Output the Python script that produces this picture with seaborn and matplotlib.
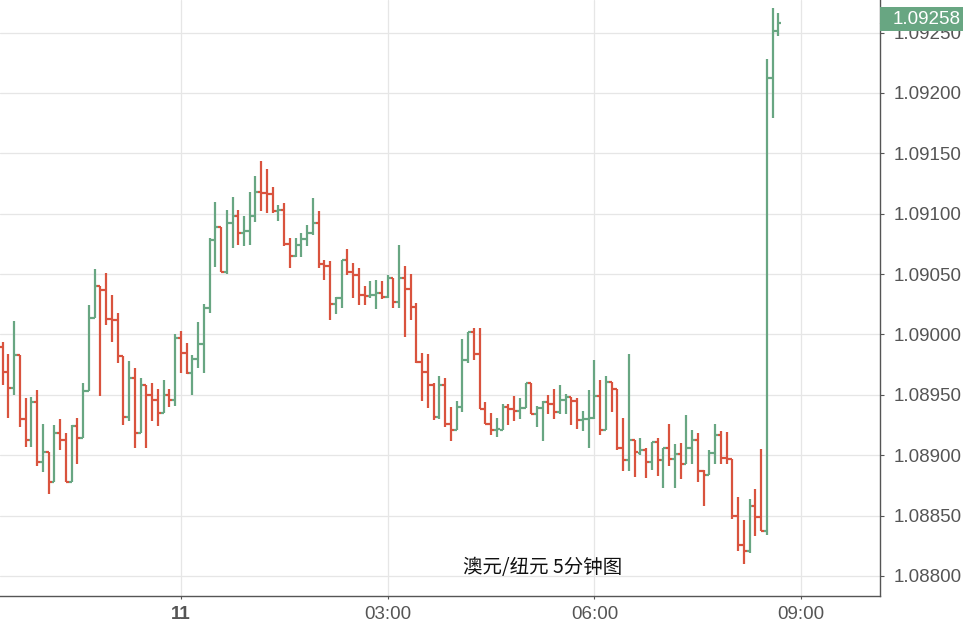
import numpy as np
import pandas as pd
import matplotlib
matplotlib.use("Agg")
import matplotlib.pyplot as plt
import matplotlib.dates as mdates
from matplotlib.patches import Rectangle
import seaborn as sns

# ===== 数据 (AUD/NZD 5分钟, 价格) =====
start_time = "2023-07-10 21:25"

open_ = [1.08990, 1.08969, 1.08956, 1.08983, 1.08930, 1.08913, 1.08944, 1.08894,
         1.08903, 1.08878, 1.08918, 1.08913, 1.08878, 1.08924, 1.08914, 1.08953,
         1.09014, 1.09040, 1.09037, 1.09013, 1.09012, 1.08982, 1.08932, 1.08964,
         1.08918, 1.08958, 1.08950, 1.08946, 1.08935, 1.08950, 1.08946, 1.08997,
         1.08985, 1.08968, 1.08980, 1.08992, 1.09022, 1.09078, 1.09089, 1.09052,
         1.09092, 1.09098, 1.09084, 1.09086, 1.09098, 1.09118, 1.09117, 1.09116,
         1.09102, 1.09103, 1.09075, 1.09065, 1.09074, 1.09079, 1.09084, 1.09092,
         1.09058, 1.09057, 1.09025, 1.09030, 1.09062, 1.09052, 1.09049, 1.09033,
         1.09032, 1.09033, 1.09034, 1.09031, 1.09047, 1.09027, 1.09047, 1.09038,
         1.09023, 1.08977, 1.08969, 1.08958, 1.08932, 1.08958, 1.08926, 1.08921,
         1.08940, 1.08979, 1.09002, 1.08984, 1.08938, 1.08926, 1.08921, 1.08921,
         1.08940, 1.08938, 1.08937, 1.08939, 1.08960, 1.08934, 1.08939, 1.08944,
         1.08942, 1.08936, 1.08946, 1.08948, 1.08945, 1.08929, 1.08930, 1.08931,
         1.08949, 1.08921, 1.08961, 1.08955, 1.08906, 1.08896, 1.08913, 1.08902,
         1.08904, 1.08894, 1.08911, 1.08896, 1.08906, 1.08897, 1.08901, 1.08893,
         1.08906, 1.08913, 1.08887, 1.08884, 1.08902, 1.08917, 1.08898, 1.08897,
         1.08850, 1.08826, 1.08821, 1.08858, 1.08849, 1.08837, 1.09212, 1.09251]
high = [1.08994, 1.08984, 1.09011, 1.08983, 1.08947, 1.08948, 1.08954, 1.08926,
        1.08903, 1.08925, 1.08930, 1.08918, 1.08925, 1.08931, 1.08960, 1.09024,
        1.09054, 1.09040, 1.09051, 1.09033, 1.09018, 1.08982, 1.08978, 1.08972,
        1.08964, 1.08958, 1.08960, 1.08955, 1.08962, 1.08955, 1.09000, 1.09003,
        1.08993, 1.08983, 1.09010, 1.09025, 1.09080, 1.09110, 1.09089, 1.09103,
        1.09114, 1.09103, 1.09098, 1.09118, 1.09131, 1.09144, 1.09137, 1.09122,
        1.09107, 1.09109, 1.09080, 1.09080, 1.09084, 1.09091, 1.09113, 1.09102,
        1.09062, 1.09061, 1.09031, 1.09062, 1.09071, 1.09059, 1.09055, 1.09040,
        1.09044, 1.09045, 1.09044, 1.09049, 1.09047, 1.09074, 1.09057, 1.09050,
        1.09026, 1.08985, 1.08984, 1.08960, 1.08966, 1.08964, 1.08940, 1.08945,
        1.08996, 1.09002, 1.09005, 1.09005, 1.08944, 1.08935, 1.08931, 1.08942,
        1.08942, 1.08949, 1.08947, 1.08960, 1.08960, 1.08941, 1.08945, 1.08950,
        1.08955, 1.08958, 1.08951, 1.08948, 1.08947, 1.08937, 1.08954, 1.08979,
        1.08962, 1.08966, 1.08961, 1.08955, 1.08931, 1.08984, 1.08913, 1.08914,
        1.08906, 1.08911, 1.08914, 1.08906, 1.08926, 1.08909, 1.08910, 1.08933,
        1.08921, 1.08918, 1.08888, 1.08904, 1.08926, 1.08920, 1.08919, 1.08897,
        1.08865, 1.08846, 1.08864, 1.08872, 1.08905, 1.09228, 1.09270, 1.09266]
low = [1.08958, 1.08931, 1.08950, 1.08923, 1.08907, 1.08907, 1.08891, 1.08886,
       1.08868, 1.08878, 1.08904, 1.08878, 1.08878, 1.08893, 1.08914, 1.08953,
       1.09014, 1.08949, 1.09008, 1.08994, 1.08976, 1.08925, 1.08928, 1.08906,
       1.08918, 1.08906, 1.08928, 1.08924, 1.08935, 1.08940, 1.08941, 1.08968,
       1.08967, 1.08950, 1.08972, 1.08968, 1.09018, 1.09056, 1.09052, 1.09050,
       1.09072, 1.09074, 1.09073, 1.09074, 1.09093, 1.09102, 1.09101, 1.09101,
       1.09094, 1.09073, 1.09055, 1.09064, 1.09064, 1.09073, 1.09082, 1.09055,
       1.09045, 1.09012, 1.09017, 1.09022, 1.09049, 1.09030, 1.09024, 1.09024,
       1.09030, 1.09021, 1.09029, 1.09030, 1.09022, 1.09022, 1.08998, 1.09012,
       1.08976, 1.08945, 1.08939, 1.08929, 1.08930, 1.08923, 1.08912, 1.08921,
       1.08936, 1.08976, 1.08979, 1.08938, 1.08926, 1.08917, 1.08915, 1.08921,
       1.08925, 1.08928, 1.08930, 1.08939, 1.08934, 1.08923, 1.08912, 1.08934,
       1.08930, 1.08934, 1.08934, 1.08925, 1.08922, 1.08920, 1.08906, 1.08930,
       1.08917, 1.08921, 1.08936, 1.08904, 1.08887, 1.08887, 1.08882, 1.08900,
       1.08881, 1.08888, 1.08883, 1.08873, 1.08891, 1.08873, 1.08880, 1.08893,
       1.08893, 1.08878, 1.08858, 1.08884, 1.08893, 1.08893, 1.08893, 1.08847,
       1.08821, 1.08810, 1.08819, 1.08833, 1.08837, 1.08834, 1.09179, 1.09247]
close = [1.08969, 1.08956, 1.08983, 1.08930, 1.08913, 1.08944, 1.08894, 1.08903,
         1.08878, 1.08918, 1.08913, 1.08878, 1.08924, 1.08914, 1.08953, 1.09014,
         1.09040, 1.09037, 1.09013, 1.09012, 1.08982, 1.08932, 1.08964, 1.08918,
         1.08958, 1.08950, 1.08946, 1.08935, 1.08950, 1.08946, 1.08997, 1.08985,
         1.08968, 1.08980, 1.08992, 1.09022, 1.09078, 1.09089, 1.09052, 1.09092,
         1.09098, 1.09084, 1.09086, 1.09098, 1.09118, 1.09117, 1.09116, 1.09102,
         1.09103, 1.09075, 1.09065, 1.09074, 1.09079, 1.09084, 1.09092, 1.09058,
         1.09057, 1.09025, 1.09030, 1.09062, 1.09052, 1.09049, 1.09033, 1.09032,
         1.09033, 1.09034, 1.09031, 1.09047, 1.09027, 1.09047, 1.09038, 1.09023,
         1.08977, 1.08969, 1.08958, 1.08932, 1.08958, 1.08926, 1.08921, 1.08940,
         1.08979, 1.09002, 1.08984, 1.08938, 1.08926, 1.08921, 1.08922, 1.08940,
         1.08938, 1.08937, 1.08939, 1.08960, 1.08934, 1.08939, 1.08944, 1.08942,
         1.08936, 1.08946, 1.08948, 1.08945, 1.08929, 1.08930, 1.08931, 1.08949,
         1.08921, 1.08961, 1.08955, 1.08906, 1.08896, 1.08913, 1.08903, 1.08904,
         1.08894, 1.08911, 1.08896, 1.08906, 1.08897, 1.08901, 1.08893, 1.08906,
         1.08913, 1.08887, 1.08884, 1.08902, 1.08917, 1.08898, 1.08897, 1.08850,
         1.08826, 1.08821, 1.08858, 1.08849, 1.08837, 1.09212, 1.09251, 1.09258]

last_price = 1.09258
title_text = "澳元/纽元 5分钟图"
xtick_times = ["2023-07-11 00:00", "2023-07-11 03:00", "2023-07-11 06:00", "2023-07-11 09:00"]
xtick_labels = ["11", "03:00", "06:00", "09:00"]
ytick_values = [1.0880, 1.0885, 1.0890, 1.0895, 1.0900, 1.0905, 1.0910, 1.0915, 1.0920, 1.0925]

# ======================
# 样式
# ======================
sns.set_theme(style="whitegrid")
plt.rcParams["font.family"] = ["Liberation Sans", "DejaVu Sans"]

UP = "#68a682"
DOWN = "#d9533e"
GRID = "#e6e6e6"
AXIS = "#555555"

df = pd.DataFrame({
    "time": pd.date_range(start_time, periods=len(close), freq="5min"),
    "open": open_, "high": high, "low": low, "close": close,
})
df["x"] = mdates.date2num(df["time"])
df["color"] = np.where(df["close"] >= df["open"], UP, DOWN)

bar = 1.0 / 288  # 5 minutes in days
half = 0.5 * bar

fig = plt.figure(figsize=(9.63, 6.26), dpi=100)
ax = fig.add_axes([0, 30 / 626, 880 / 963, 596 / 626])

# ======================
# OHLC
# ======================
lw = 1.6
ax.vlines(df["x"], df["low"], df["high"], colors=df["color"], linewidth=lw, zorder=3)
ax.hlines(df["open"], df["x"] - half, df["x"], colors=df["color"], linewidth=lw, zorder=3)
ax.hlines(df["close"], df["x"], df["x"] + half, colors=df["color"], linewidth=lw, zorder=3)

x0 = df["x"].iloc[0]
ax.set_xlim(x0 - 0.47 * bar, x0 + 152.7 * bar)
ax.set_ylim(1.087834, 1.09277)

# ======================
# 坐标轴
# ======================
ax.set_xticks(mdates.date2num(pd.to_datetime(xtick_times)))
ax.set_xticklabels(xtick_labels)
ax.get_xticklabels()[0].set_fontweight("bold")
ax.set_yticks(ytick_values)
ax.set_yticklabels([f"{v:.5f}" for v in ytick_values])

ax.yaxis.tick_right()
ax.tick_params(axis="y", which="both", length=3, width=0.8, color=AXIS,
               pad=6.5, labelsize=13.5, labelcolor=AXIS, right=True, left=False)
ax.tick_params(axis="x", length=2, width=0.8, color=AXIS, pad=5,
               labelsize=13.5, labelcolor=AXIS, bottom=True)

ax.grid(True, color=GRID, linewidth=0.9)
for side in ["top", "left"]:
    ax.spines[side].set_visible(False)
for side in ["right", "bottom"]:
    ax.spines[side].set_visible(True)
    ax.spines[side].set_color(AXIS)
    ax.spines[side].set_linewidth(1.0)
ax.set_facecolor("white")
ax.set_xlabel("")
ax.set_ylabel("")

# ===== 最新价标签 =====
ax.plot([1.0, 1.004], [last_price, last_price], transform=ax.get_yaxis_transform(),
        color=UP, linewidth=1.0, clip_on=False, zorder=5)
fig.patches.append(Rectangle((880 / 963, 1 - 31 / 626), 83 / 963, 24 / 626,
                             transform=fig.transFigure, facecolor=UP,
                             edgecolor="none", zorder=10))
label_y = 1 - 20 / 626
fig.text(893 / 963, label_y, f"{last_price:.5f}", ha="left", va="center",
         color="white", fontsize=13.5, zorder=12)

# ===== 标题 =====
fig.text(542.5 / 963, 1 - 567 / 626, title_text, ha="center", va="center",
         fontsize=14, color="#111111", family=["Noto Sans CJK SC", "DejaVu Sans"])

fig.savefig("out.png", dpi=100)
